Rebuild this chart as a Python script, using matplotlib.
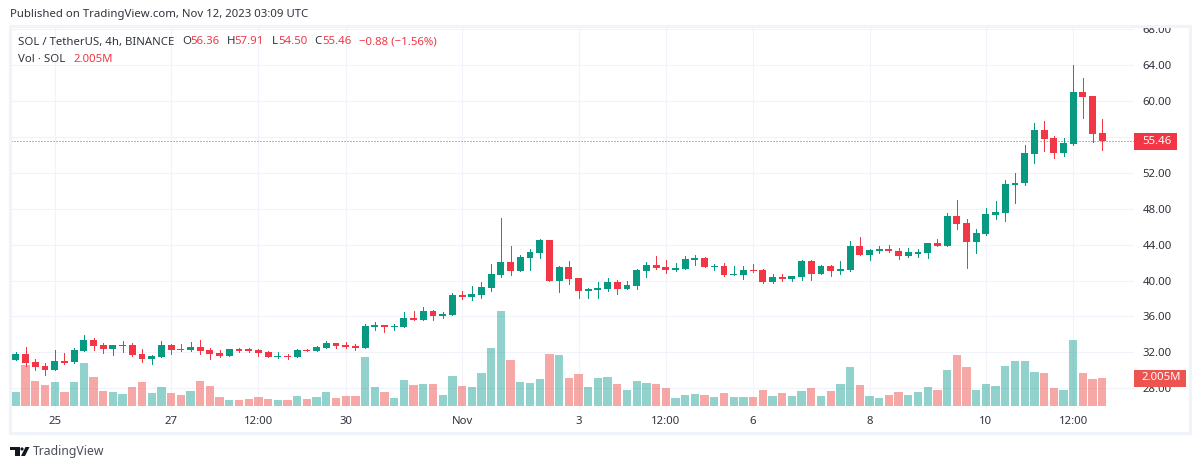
import matplotlib
matplotlib.use("Agg")
import matplotlib.pyplot as plt
from matplotlib.patches import Rectangle, Polygon, Circle

# 4h candles, first one is 4 bars before the "25" tick
opens = [31.17, 31.83, 30.94, 30.50, 30.05, 31.05, 30.94, 32.17, 33.39, 32.83,
         32.39, 32.72, 32.83, 31.83, 31.28, 31.50, 32.83, 32.39, 32.28, 32.61,
         32.28, 31.94, 31.61, 32.39, 32.35, 32.28, 32.05, 31.50, 31.61, 31.50,
         32.28, 32.17, 32.50, 33.05, 32.83, 32.72, 32.50, 34.83, 35.05, 34.87,
         34.84, 35.84, 35.61, 36.61, 36.06, 36.17, 38.39, 38.16, 38.38, 39.16,
         40.61, 42.05, 41.05, 42.50, 43.05, 44.50, 39.94, 41.50, 40.27, 38.83,
         38.94, 39.05, 39.83, 39.05, 39.38, 41.05, 41.72, 41.50, 41.16, 41.27,
         42.27, 42.50, 41.50, 41.61, 40.61, 40.61, 41.16, 41.16, 39.83, 40.38,
         40.16, 40.39, 42.16, 40.72, 41.61, 41.05, 41.16, 43.83, 42.83, 43.28,
         43.50, 43.28, 42.72, 42.94, 43.05, 44.16, 43.83, 47.16, 46.39, 44.27,
         45.16, 47.27, 47.50, 50.61, 50.83, 54.05, 56.72, 55.83, 54.17, 55.17,
         60.94, 60.50, 56.36]
highs = [32.05, 32.61, 31.28, 30.83, 32.28, 31.94, 32.50, 33.94, 33.61, 33.05,
         32.83, 33.28, 33.05, 32.39, 31.72, 33.28, 32.94, 32.94, 33.17, 33.39,
         32.50, 32.28, 32.39, 32.50, 32.50, 32.39, 32.17, 32.05, 31.83, 32.39,
         32.39, 32.72, 33.28, 33.05, 33.17, 32.94, 35.17, 35.39, 35.05, 35.17,
         36.50, 36.61, 37.06, 36.72, 36.50, 38.61, 38.84, 39.38, 39.83, 41.83,
         46.94, 43.83, 42.83, 43.50, 44.61, 44.50, 41.61, 42.16, 40.27, 39.16,
         39.83, 40.27, 40.05, 39.94, 41.27, 42.05, 42.72, 42.27, 41.94, 42.72,
         42.83, 42.61, 41.83, 41.94, 41.61, 41.61, 41.83, 41.27, 40.72, 40.72,
         40.50, 42.27, 42.27, 41.72, 41.72, 42.16, 44.39, 44.83, 43.50, 43.83,
         43.94, 43.61, 43.61, 43.50, 44.16, 44.61, 47.50, 48.94, 46.83, 45.72,
         48.05, 48.83, 51.16, 51.94, 55.05, 57.50, 57.72, 56.05, 55.83, 63.94,
         62.50, 60.50, 57.91]
lows = [31.17, 30.50, 30.05, 29.50, 30.05, 30.72, 30.83, 32.17, 32.28, 31.94,
        31.72, 32.05, 31.61, 30.94, 30.72, 31.50, 31.83, 32.17, 32.17, 31.83,
        31.28, 31.50, 31.61, 32.05, 32.05, 31.61, 31.50, 31.39, 31.28, 31.50,
        32.17, 32.17, 32.50, 32.50, 32.50, 32.28, 32.50, 34.50, 34.28, 34.50,
        34.84, 35.61, 35.61, 35.61, 35.84, 36.17, 37.95, 37.83, 38.05, 38.83,
        40.38, 40.61, 41.05, 41.16, 42.50, 39.94, 38.72, 39.61, 38.05, 38.05,
        38.05, 38.83, 38.50, 39.05, 39.05, 40.38, 41.27, 40.83, 41.05, 41.27,
        41.72, 41.50, 41.16, 40.50, 40.61, 40.16, 40.94, 39.72, 39.72, 39.94,
        39.94, 40.05, 40.05, 40.72, 40.50, 40.72, 41.05, 42.83, 42.27, 43.05,
        43.16, 42.39, 42.61, 42.61, 42.50, 43.83, 43.83, 45.72, 41.39, 43.05,
        45.05, 46.83, 46.61, 48.61, 50.61, 53.05, 54.39, 53.61, 53.83, 55.05,
        58.05, 55.39, 54.50]
closes = [31.83, 30.83, 30.39, 30.05, 31.05, 30.83, 32.28, 33.39, 32.72, 32.39,
          32.83, 32.83, 31.72, 31.28, 31.61, 32.83, 32.28, 32.28, 32.61, 32.17,
          31.83, 31.61, 32.39, 32.17, 32.20, 31.94, 31.50, 31.61, 31.54, 32.28,
          32.20, 32.61, 33.05, 32.72, 32.61, 32.50, 34.94, 35.05, 34.83, 34.94,
          35.84, 35.61, 36.61, 36.06, 36.28, 38.39, 38.17, 38.50, 39.27, 40.72,
          42.05, 41.05, 42.61, 43.16, 44.50, 39.94, 41.50, 40.16, 38.83, 39.05,
          39.16, 39.83, 39.05, 39.50, 41.16, 41.72, 41.38, 41.16, 41.38, 42.38,
          42.50, 41.50, 41.65, 40.61, 40.72, 41.16, 41.05, 39.83, 40.38, 40.16,
          40.50, 42.16, 40.72, 41.61, 41.05, 41.27, 43.83, 42.83, 43.39, 43.50,
          43.28, 42.72, 43.16, 43.16, 44.16, 43.83, 47.16, 46.27, 44.27, 45.28,
          47.38, 47.61, 50.72, 50.83, 54.17, 56.72, 55.72, 54.17, 55.28, 60.94,
          60.39, 56.28, 55.46]
# volume in millions, same bars as the candles
volumes = [1.00, 2.94, 1.79, 1.50, 1.72, 1.00, 1.72, 3.08, 2.08, 1.07,
           1.00, 0.86, 1.36, 1.72, 0.93, 1.36, 0.93, 0.79, 1.07, 1.79,
           1.43, 0.64, 0.43, 0.43, 0.50, 0.64, 0.50, 0.43, 0.43, 0.72,
           0.50, 0.64, 1.00, 0.57, 0.72, 0.72, 3.51, 1.36, 1.00, 0.57,
           1.86, 1.50, 1.58, 1.58, 0.79, 2.15, 1.43, 1.36, 2.36, 4.15,
           6.80, 3.29, 1.72, 1.65, 1.93, 3.72, 3.65, 2.01, 2.29, 1.36,
           2.01, 2.08, 1.58, 1.15, 1.79, 1.65, 1.58, 1.29, 0.57, 0.79,
           0.86, 0.79, 0.64, 0.93, 0.64, 0.64, 0.64, 1.15, 0.72, 0.93,
           0.72, 1.07, 1.29, 0.72, 1.07, 1.58, 2.79, 1.50, 0.72, 0.57,
           0.79, 1.00, 0.79, 1.00, 1.36, 1.15, 2.58, 3.65, 2.79, 1.15,
           1.58, 1.43, 2.86, 3.22, 3.22, 2.43, 2.36, 1.29, 1.15, 4.73,
           2.36, 1.93, 2.005]
# sliver of one more volume bar at the left edge
volume_before = 1.29
last_price = 55.46

price_ticks = [28, 32, 36, 40, 44, 48, 52, 56, 60, 64, 68]
time_ticks = [0, 12, 21, 30, 42, 54, 63, 72, 84, 96, 105]
time_labels = ["25", "27", "12:00", "30", "Nov", "3", "12:00", "6", "8", "10", "12:00"]

GREEN = "#089981"
RED = "#F23645"
GRID = "#F0F3FA"
TEXT = "#2f333d"

plt.rcParams["font.family"] = ["Noto Sans", "DejaVu Sans"]
plt.rcParams["font.size"] = 8.2

W, H = 1200, 469
fig = plt.figure(figsize=(W / 100, H / 100), dpi=100, facecolor="white")
rect = [11 / W, (H - 410) / H, 1123 / W, 383 / H]
xlim = ((11 - 54.7) / 9.7, (1134 - 54.7) / 9.7)

# back axes: grid and tick labels
ax = fig.add_axes(rect)
ax.set_xlim(xlim)
ax.set_ylim(25.61, 68.17)
ax.set_yticks(price_ticks, [f"{p:.2f}" for p in price_ticks])
ax.set_xticks(time_ticks, time_labels)
ax.tick_params(axis="y", length=0, pad=6, labelcolor=TEXT)
ax.tick_params(axis="x", length=0, pad=4, labelcolor=TEXT)
ax.grid(color=GRID, lw=0.75)
ax.set_axisbelow(True)
for s in ax.spines.values():
    s.set_visible(False)

# volume sits on its own scale at the bottom
vol_ax = ax.twinx()
vol_ax.set_ylim(-0.286, 27.14)
vol_ax.axis("off")
xs = list(range(-4, len(volumes) - 4))
vol_colors = ["#26a69a" if c >= o else "#ef5350" for o, c in zip(opens, closes)]
vol_ax.bar(xs, volumes, width=0.85, color=vol_colors, alpha=0.5, lw=0)
vol_ax.bar([-5], [volume_before], width=0.85, color="#ef5350", alpha=0.5, lw=0)

# candles on top
price_ax = ax.twinx()
price_ax.set_ylim(ax.get_ylim())
price_ax.axis("off")
colors = [GREEN if c >= o else RED for o, c in zip(opens, closes)]
price_ax.vlines(xs, lows, highs, colors=colors, lw=0.72, antialiased=False)
bottoms = [min(o, c) for o, c in zip(opens, closes)]
heights = [max(abs(c - o), 0.12) for o, c in zip(opens, closes)]
price_ax.bar(xs, heights, bottom=bottoms, width=0.72, color=colors, lw=0)
price_ax.axhline(last_price, color=RED, lw=0.72, ls=(0, (1, 2)))

# twinx moved the ticks to the left, put the price scale back on the right
ax.yaxis.tick_right()

# overlay in pixel coordinates for frame, tags and header
top = fig.add_axes([0, 0, 1, 1], zorder=10)
top.set_xlim(0, W)
top.set_ylim(H, 0)
top.axis("off")
top.add_patch(Rectangle((0, 0), W, 25.5, color="white", lw=0))
top.add_patch(Rectangle((10, 26.5), 1179.5, 407, fill=False, edgecolor=GRID, lw=2.2))

top.add_patch(Rectangle((1134, 133), 43, 17.5, color=RED, lw=0))
top.text(1157, 141.5, "55.46", color="white", ha="center", va="center", weight="medium")
top.add_patch(Rectangle((1134, 370), 52, 17, color="#EF5350", lw=0))
top.text(1161, 378, "2.005M", color="white", ha="center", va="center", weight="medium")

top.text(10, 15, "Published on TradingView.com, Nov 12, 2023 03:09 UTC", color=TEXT, va="center")
top.text(18, 42, "SOL / TetherUS, 4h, BINANCE", color=TEXT, va="center")
top.text(18, 59, "Vol · SOL", color=TEXT, va="center")
top.text(73, 59, "2.005M", color=RED, va="center")
for x, s, c in [(182.5, "O", TEXT), (190, "56.36", RED), (227, "H", TEXT), (234, "57.91", RED),
                (271.5, "L", TEXT), (278, "54.50", RED), (314, "C", TEXT), (322, "55.46", RED),
                (359, "−0.88 (−1.56%)", RED)]:
    top.text(x, 42, s, color=c, va="center")

# TradingView logo
LOGO = "#131722"
top.add_patch(Rectangle((10, 447), 9.5, 3.2, color=LOGO, lw=0))
top.add_patch(Rectangle((15, 447), 4.5, 9, color=LOGO, lw=0))
top.add_patch(Circle((22, 449), 1.6, color=LOGO, lw=0))
top.add_patch(Polygon([(25.5, 447), (29.5, 447), (25, 456), (21, 456)], closed=True, color=LOGO, lw=0))
top.text(33, 451.5, "TradingView", color="#4a4e58", va="center", fontsize=8.8)

fig.savefig("out.png", dpi=100)
